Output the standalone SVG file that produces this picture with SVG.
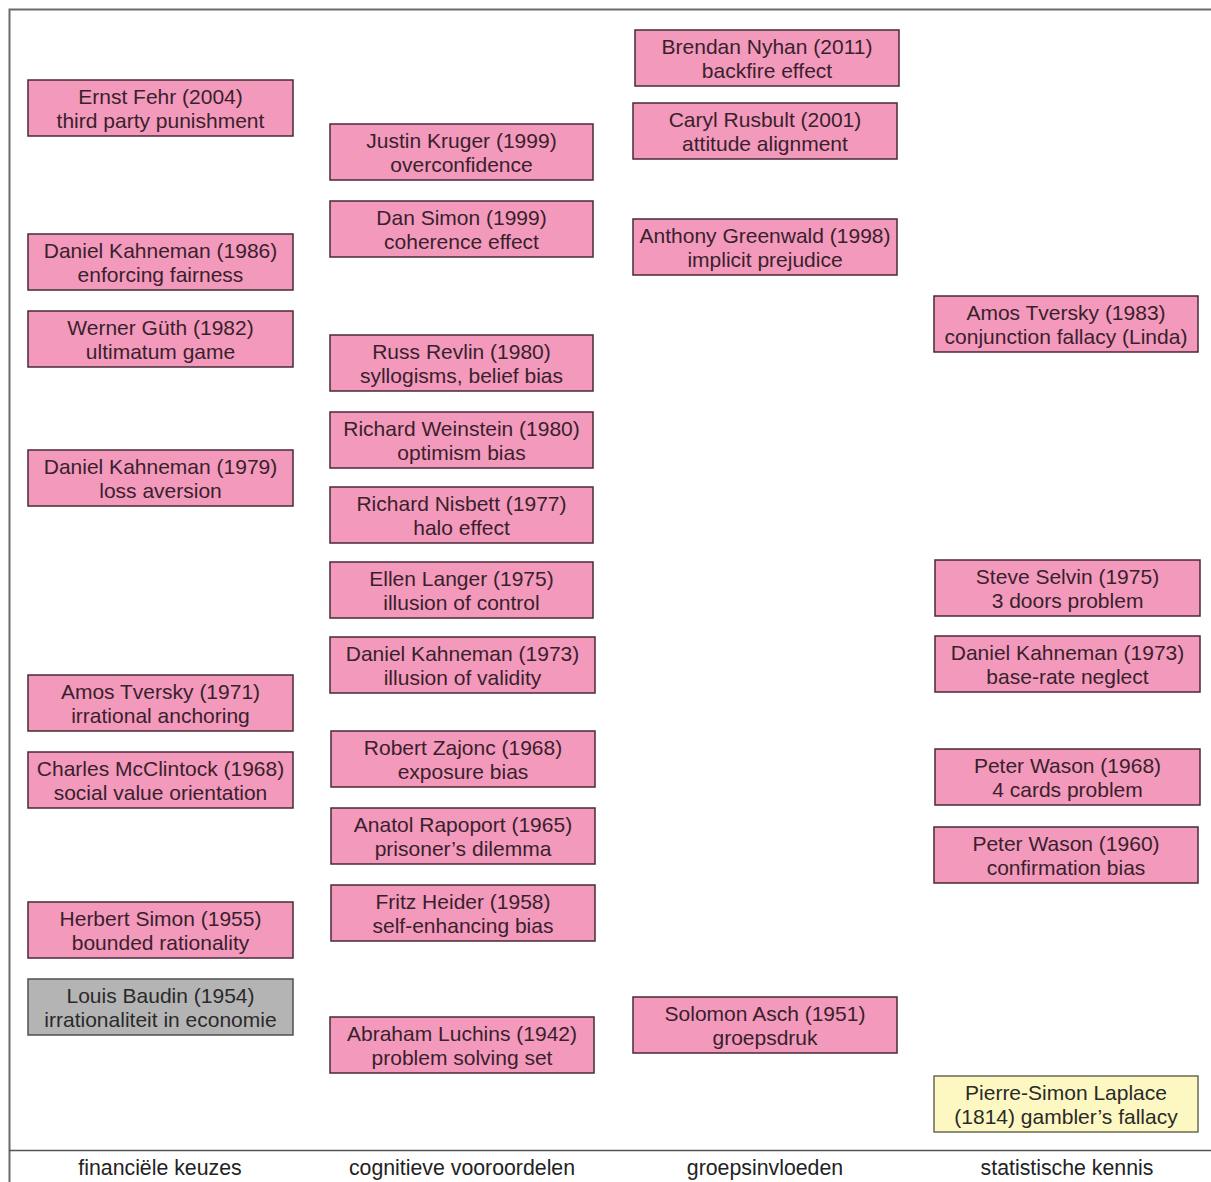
<svg xmlns="http://www.w3.org/2000/svg" width="1211" height="1182" viewBox="0 0 1211 1182">
<style>
.b rect{fill:#f299bc;stroke:#4a2a38;stroke-width:1.5}
.g rect{fill:#b4b4b4;stroke:#505050;stroke-width:1.5}
.y rect{fill:#fdf8c2;stroke:#6a6a5a;stroke-width:1.5}
text{font-family:"Liberation Sans",Arial,sans-serif;font-size:21px;text-anchor:middle;fill:#3a1f2c}
.g text{fill:#2a2a2a}
.y text{fill:#2a2a2a}
.lab{font-size:21.3px;fill:#222}
</style>
<rect x="0" y="0" width="1211" height="1182" fill="#ffffff"/>
<g id="frame" fill="none">
<path d="M9.5 1182V9.5H1211" stroke="#6a6a6a" stroke-width="2"/>
<path d="M9 1150.5H1211" stroke="#555" stroke-width="1.3"/>
</g>
<g id="connectors"></g>
<!-- column 1 -->
<g id="n_fehr" class="b"><rect x="28" y="80" width="265" height="56"/><text x="160.5" y="104">Ernst Fehr (2004)</text><text x="160.5" y="128">third party punishment</text></g>
<g id="n_kahneman1986" class="b"><rect x="28" y="234" width="265" height="56"/><text x="160.5" y="258">Daniel Kahneman (1986)</text><text x="160.5" y="282">enforcing fairness</text></g>
<g id="n_guth" class="b"><rect x="28" y="311" width="265" height="56"/><text x="160.5" y="335">Werner Güth (1982)</text><text x="160.5" y="359">ultimatum game</text></g>
<g id="n_kahneman1979" class="b"><rect x="28" y="450" width="265" height="56"/><text x="160.5" y="474">Daniel Kahneman (1979)</text><text x="160.5" y="498">loss aversion</text></g>
<g id="n_tversky1971" class="b"><rect x="28" y="675" width="265" height="56"/><text x="160.5" y="699">Amos Tversky (1971)</text><text x="160.5" y="723">irrational anchoring</text></g>
<g id="n_mcclintock" class="b"><rect x="28" y="752" width="265" height="56"/><text x="160.5" y="776">Charles McClintock (1968)</text><text x="160.5" y="800">social value orientation</text></g>
<g id="n_hsimon" class="b"><rect x="28" y="902" width="265" height="56"/><text x="160.5" y="926">Herbert Simon (1955)</text><text x="160.5" y="950">bounded rationality</text></g>
<g id="n_baudin" class="g"><rect x="28" y="979" width="265" height="56"/><text x="160.5" y="1003">Louis Baudin (1954)</text><text x="160.5" y="1027">irrationaliteit in economie</text></g>
<!-- column 2 -->
<g id="n_kruger" class="b"><rect x="330" y="124" width="263" height="56"/><text x="461.5" y="148">Justin Kruger (1999)</text><text x="461.5" y="172">overconfidence</text></g>
<g id="n_dsimon" class="b"><rect x="330" y="201" width="263" height="56"/><text x="461.5" y="225">Dan Simon (1999)</text><text x="461.5" y="249">coherence effect</text></g>
<g id="n_revlin" class="b"><rect x="330" y="335" width="263" height="56"/><text x="461.5" y="359">Russ Revlin (1980)</text><text x="461.5" y="383">syllogisms, belief bias</text></g>
<g id="n_weinstein" class="b"><rect x="330" y="412" width="263" height="56"/><text x="461.5" y="436">Richard Weinstein (1980)</text><text x="461.5" y="460">optimism bias</text></g>
<g id="n_nisbett" class="b"><rect x="330" y="487" width="263" height="56"/><text x="461.5" y="511">Richard Nisbett (1977)</text><text x="461.5" y="535">halo effect</text></g>
<g id="n_langer" class="b"><rect x="330" y="562" width="263" height="56"/><text x="461.5" y="586">Ellen Langer (1975)</text><text x="461.5" y="610">illusion of control</text></g>
<g id="n_kahneman1973a" class="b"><rect x="330" y="637" width="265" height="56"/><text x="462.5" y="661">Daniel Kahneman (1973)</text><text x="462.5" y="685">illusion of validity</text></g>
<g id="n_zajonc" class="b"><rect x="331" y="731" width="264" height="56"/><text x="463" y="755">Robert Zajonc (1968)</text><text x="463" y="779">exposure bias</text></g>
<g id="n_rapoport" class="b"><rect x="331" y="808" width="264" height="56"/><text x="463" y="832">Anatol Rapoport (1965)</text><text x="463" y="856">prisoner’s dilemma</text></g>
<g id="n_heider" class="b"><rect x="331" y="885" width="264" height="56"/><text x="463" y="909">Fritz Heider (1958)</text><text x="463" y="933">self-enhancing bias</text></g>
<g id="n_luchins" class="b"><rect x="330" y="1017" width="264" height="56"/><text x="462" y="1041">Abraham Luchins (1942)</text><text x="462" y="1065">problem solving set</text></g>
<!-- column 3 -->
<g id="n_nyhan" class="b"><rect x="635" y="30" width="264" height="56"/><text x="767" y="54">Brendan Nyhan (2011)</text><text x="767" y="78">backfire effect</text></g>
<g id="n_rusbult" class="b"><rect x="633" y="103" width="264" height="56"/><text x="765" y="127">Caryl Rusbult (2001)</text><text x="765" y="151">attitude alignment</text></g>
<g id="n_greenwald" class="b"><rect x="633" y="219" width="264" height="56"/><text x="765" y="243">Anthony Greenwald (1998)</text><text x="765" y="267">implicit prejudice</text></g>
<g id="n_asch" class="b"><rect x="633" y="997" width="264" height="56"/><text x="765" y="1021">Solomon Asch (1951)</text><text x="765" y="1045">groepsdruk</text></g>
<!-- column 4 -->
<g id="n_tversky1983" class="b"><rect x="934" y="296" width="264" height="56"/><text x="1066" y="320">Amos Tversky (1983)</text><text x="1066" y="344">conjunction fallacy (Linda)</text></g>
<g id="n_selvin" class="b"><rect x="935" y="560" width="265" height="56"/><text x="1067.5" y="584">Steve Selvin (1975)</text><text x="1067.5" y="608">3 doors problem</text></g>
<g id="n_kahneman1973b" class="b"><rect x="935" y="636" width="265" height="56"/><text x="1067.5" y="660">Daniel Kahneman (1973)</text><text x="1067.5" y="684">base-rate neglect</text></g>
<g id="n_wason1968" class="b"><rect x="935" y="749" width="265" height="56"/><text x="1067.5" y="773">Peter Wason (1968)</text><text x="1067.5" y="797">4 cards problem</text></g>
<g id="n_wason1960" class="b"><rect x="934" y="827" width="264" height="56"/><text x="1066" y="851">Peter Wason (1960)</text><text x="1066" y="875">confirmation bias</text></g>
<g id="n_laplace" class="y"><rect x="934" y="1076" width="264" height="56"/><text x="1066" y="1100">Pierre-Simon Laplace</text><text x="1066" y="1124">(1814) gambler’s fallacy</text></g>
<!-- column labels -->
<g id="labels">
<text class="lab" x="160" y="1175">financiële keuzes</text>
<text class="lab" x="462" y="1175">cognitieve vooroordelen</text>
<text class="lab" x="765" y="1175">groepsinvloeden</text>
<text class="lab" x="1067" y="1175">statistische kennis</text>
</g>
</svg>
